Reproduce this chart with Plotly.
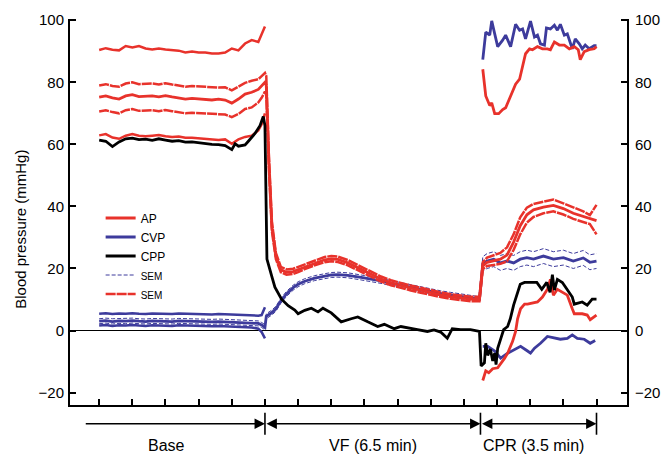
import plotly.graph_objects as go

FONT = "Arial, 'Liberation Sans', sans-serif"
RED = "#e8322b"
BLUE = "#3d3b9c"
BLACK = "#000000"

# ---------------- data (time in minutes, pressure in mmHg) ----------------
t_base = [-5.0, -4.8, -4.6, -4.4, -4.2, -4.0, -3.8, -3.6, -3.4, -3.2, -3.0, -2.8, -2.6, -2.4,
          -2.2, -2.0, -1.8, -1.6, -1.4, -1.2, -1.0, -0.8, -0.6, -0.4, -0.2, -0.1, 0.0]

t_mean = t_base + [0.04, 0.12, 0.21, 0.33, 0.48, 0.65, 0.85, 1.0, 1.2, 1.5, 1.8, 2.0, 2.2, 2.5,
                   2.9, 3.2, 3.5, 3.8, 4.1, 4.4, 4.7, 5.0, 5.3, 5.6, 5.9, 6.2, 6.47,
                   6.52, 6.57, 6.7, 6.9, 7.1, 7.3, 7.5, 7.7, 7.9, 8.1, 8.4, 8.7, 9.0, 9.3, 9.6, 9.8, 10.0]

ap_mean = [75.2, 75.6, 75.0, 74.6, 75.6, 76.0, 75.4, 75.4, 75.6, 75.3, 75.7, 75.3, 75.0, 74.6,
           74.8, 74.7, 74.5, 74.3, 74.6, 74.3, 73.3, 74.6, 76.2, 76.8, 77.7, 79.0, 80.0,
           79.0, 54.0, 33.5, 24.0, 19.6, 18.8, 19.0, 19.6, 20.6, 21.8, 22.8, 23.1, 22.9, 21.8,
           19.7, 18.0, 16.6, 15.4, 14.5, 13.7, 13.0, 12.2, 11.5, 10.9, 10.4, 10.1, 10.1,
           15.5, 20.8, 22.0, 22.6, 23.0, 24.3, 28.5, 33.8, 37.3, 38.9, 39.8, 40.3, 39.3, 37.8,
           36.8, 36.2, 35.4]
ap_sem_hi = [79.0, 79.4, 78.8, 78.6, 79.6, 80.0, 79.4, 79.4, 79.6, 79.3, 79.7, 79.3, 79.0, 78.6,
             78.8, 78.7, 78.5, 78.3, 78.3, 78.4, 77.4, 78.6, 79.8, 80.5, 81.0, 82.0, 83.0,
             82.0, 56.0, 35.0, 25.0, 20.5, 19.7, 19.9, 20.5, 21.5, 22.7, 23.7, 24.0, 23.8, 22.7,
             20.6, 18.9, 17.4, 16.2, 15.3, 14.5, 13.8, 13.0, 12.3, 11.7, 11.2, 10.9, 10.9,
             16.5, 22.0, 23.5, 24.3, 25.0, 26.8, 31.0, 36.5, 39.6, 40.8, 41.5, 42.2, 41.0, 39.6,
             38.4, 37.2, 40.5]
ap_sem_lo = [70.6, 71.0, 70.4, 70.0, 71.0, 71.4, 70.8, 70.8, 71.0, 70.7, 71.1, 70.7, 70.4, 70.0,
             70.2, 70.1, 69.9, 69.7, 69.8, 69.6, 68.8, 69.8, 71.4, 71.9, 73.5, 75.0, 77.0,
             76.0, 52.0, 32.0, 23.0, 18.8, 18.0, 18.2, 18.8, 19.8, 21.0, 22.0, 22.3, 22.1, 21.0,
             18.9, 17.2, 15.8, 14.6, 13.7, 12.9, 12.2, 11.4, 10.8, 10.2, 9.7, 9.4, 9.4,
             14.5, 19.8, 20.8, 21.2, 21.5, 22.3, 26.0, 31.0, 34.8, 36.6, 37.8, 38.4, 37.4, 36.0,
             35.0, 34.3, 31.0]

cvp_mean = [3.0, 3.2, 2.9, 3.1, 3.0, 3.2, 3.0, 2.9, 3.1, 3.0, 3.0, 2.9, 3.1, 3.0,
            2.9, 3.0, 2.9, 2.8, 2.9, 2.8, 2.7, 2.8, 2.6, 2.5, 2.3, 1.8, 1.0,
            4.6, 5.2, 5.8, 7.0, 9.6, 11.8, 13.8, 14.9, 15.9, 16.9, 17.6, 17.9, 18.0, 17.8,
            17.1, 16.6, 16.0, 15.3, 14.6, 13.9, 13.2, 12.6, 12.0, 11.5, 11.0, 10.5, 10.1,
            15.5, 21.5, 22.4, 23.0, 21.8, 22.4, 21.8, 23.0, 23.5, 23.0, 24.0, 23.0, 23.5, 22.4,
            23.4, 22.0, 22.4]
cvp_sem_hi = [3.8, 4.0, 3.8, 3.9, 3.8, 4.0, 3.8, 3.7, 3.9, 3.8, 3.8, 3.7, 3.9, 3.8,
              3.7, 3.8, 3.7, 3.6, 3.7, 3.6, 3.5, 3.6, 3.4, 3.3, 3.1, 2.6, 1.9,
              5.4, 6.0, 6.6, 7.8, 10.4, 12.6, 14.6, 15.7, 16.7, 17.7, 18.4, 18.7, 18.8, 18.6,
              17.9, 17.4, 16.8, 16.1, 15.4, 14.7, 14.0, 13.4, 12.8, 12.3, 11.8, 11.3, 10.9,
              16.5, 23.8, 24.8, 25.4, 24.2, 24.8, 24.2, 25.4, 25.9, 25.4, 26.4, 25.4, 25.9, 24.8,
              25.8, 24.4, 24.8]
cvp_sem_lo = [2.2, 2.4, 2.1, 2.3, 2.2, 2.4, 2.2, 2.1, 2.3, 2.2, 2.2, 2.1, 2.3, 2.2,
              2.1, 2.2, 2.1, 2.0, 2.1, 2.0, 1.9, 2.0, 1.8, 1.7, 1.5, 1.0, 0.2,
              3.8, 4.4, 5.0, 6.2, 8.8, 11.0, 13.0, 14.1, 15.1, 16.1, 16.8, 17.1, 17.2, 17.0,
              16.3, 15.8, 15.2, 14.5, 13.8, 13.1, 12.4, 11.8, 11.2, 10.7, 10.2, 9.7, 9.3,
              14.5, 19.2, 20.0, 20.6, 19.4, 20.0, 19.4, 20.6, 21.1, 20.6, 21.6, 20.6, 21.1, 20.0,
              21.0, 19.6, 20.0]

# baseline systolic / diastolic traces
ap_sys_base = [90.4, 91.0, 90.5, 90.3, 91.7, 91.2, 91.7, 90.9, 90.6, 90.9, 90.6, 90.4, 90.2, 89.6,
               89.9, 89.6, 89.6, 89.3, 89.3, 89.6, 90.9, 90.3, 92.5, 93.6, 93.0, 95.5, 98.0]
ap_dia_base = [62.9, 63.3, 62.2, 61.8, 62.8, 63.3, 62.8, 62.6, 62.8, 63.0, 62.6, 62.4, 62.5, 62.1,
               62.1, 61.9, 61.7, 61.5, 61.4, 61.6, 60.2, 61.6, 62.4, 62.8, 64.5, 66.5, 70.0]
cvp_sys_base = [5.4, 5.6, 5.3, 5.5, 5.4, 5.6, 5.4, 5.3, 5.5, 5.4, 5.4, 5.3, 5.5, 5.4,
                5.3, 5.4, 5.3, 5.2, 5.3, 5.2, 5.1, 5.2, 5.0, 4.9, 4.8, 5.0, 7.5]
cvp_dia_base = [1.6, 1.8, 1.5, 1.7, 1.6, 1.8, 1.6, 1.5, 1.7, 1.6, 1.6, 1.5, 1.7, 1.6,
                1.5, 1.6, 1.5, 1.4, 1.5, 1.4, 1.3, 1.4, 1.2, 1.0, 0.6, -0.5, -2.5]

# CPR systolic / diastolic traces
t_ap_sys_cpr = [6.57, 6.66, 6.78, 6.84, 6.93, 7.05, 7.17, 7.26, 7.41, 7.56, 7.68, 7.77, 7.86, 7.98,
                8.07, 8.22, 8.37, 8.52, 8.61, 8.73, 8.88, 9.03, 9.18, 9.33, 9.45, 9.51, 9.63, 9.78,
                9.93, 10.0]
ap_sys_cpr = [84.2, 75.6, 72.5, 73.4, 69.9, 69.9, 71.2, 71.8, 75.6, 79.4, 81.0, 85.1, 89.2, 90.8,
              90.5, 91.5, 90.8, 90.8, 90.5, 93.0, 92.0, 92.0, 90.8, 91.5, 90.5, 87.3, 89.9, 90.5,
              90.8, 91.5]
t_cvp_sys_cpr = [6.57, 6.66, 6.78, 6.84, 6.93, 7.02, 7.17, 7.26, 7.41, 7.56, 7.68, 7.77, 7.86, 8.01,
                 8.13, 8.22, 8.31, 8.43, 8.49, 8.61, 8.73, 8.82, 8.91, 9.03, 9.12, 9.27, 9.36, 9.48,
                 9.57, 9.66, 9.78, 9.93, 10.0]
cvp_sys_cpr = [87.3, 96.2, 95.2, 99.8, 95.6, 91.5, 93.6, 95.2, 91.5, 98.7, 96.8, 97.2, 94.0, 99.7,
               94.6, 95.2, 92.4, 92.0, 97.5, 97.2, 98.4, 96.8, 98.7, 95.2, 95.6, 90.8, 94.0, 92.4,
               90.8, 92.0, 90.8, 91.8, 91.8]
t_ap_dia_cpr = [6.57, 6.66, 6.75, 6.87, 7.02, 7.11, 7.23, 7.32, 7.47, 7.56, 7.62, 7.71, 7.83, 7.92,
                8.22, 8.37, 8.52, 8.61, 8.70, 8.82, 8.97, 9.12, 9.27, 9.33, 9.57, 9.72, 9.81, 10.0]
ap_dia_cpr = [-16.1, -13.0, -13.6, -12.3, -12.0, -10.8, -8.9, -7.3, -3.5, -0.3, 3.8, 7.0, 8.5, 8.5,
              9.2, 10.8, 13.3, 16.5, 11.4, 13.3, 12.3, 11.4, 7.0, 5.4, 5.4, 5.0, 3.5, 5.0]
t_cvp_dia_cpr = [6.57, 6.72, 6.93, 7.11, 7.32, 7.53, 7.71, 7.92, 8.01, 8.13, 8.31, 8.52, 8.73, 8.91,
                 9.12, 9.27, 9.42, 9.63, 9.81, 9.96]
cvp_dia_cpr = [-5.1, -5.1, -6.6, -8.9, -7.3, -6.0, -5.1, -6.6, -7.3, -5.7, -4.1, -1.9, -2.5, -2.8,
               -2.5, -1.4, -2.5, -2.8, -4.1, -3.2]

# coronary perfusion pressure
t_cpp = [-5.0, -4.8, -4.6, -4.4, -4.2, -4.0, -3.8, -3.6, -3.4, -3.2,
         -3.0, -2.8, -2.6, -2.4, -2.2, -2.0, -1.8, -1.6, -1.4, -1.2,
         -1.0, -0.9, -0.8, -0.6, -0.5, -0.3, -0.15, -0.05, 0.0, 0.03,
         0.06, 0.2, 0.3, 0.5, 0.7, 0.9, 1.0, 1.2, 1.4, 1.6,
         1.75, 2.0, 2.3, 2.6, 2.8, 3.1, 3.4, 3.6, 3.9, 4.1,
         4.4, 4.6, 4.9, 5.1, 5.3, 5.5, 5.65, 5.9, 6.2, 6.4,
         6.47, 6.52, 6.62, 6.66, 6.72, 6.8, 6.87, 6.93, 6.97, 7.02,
         7.08, 7.2, 7.32, 7.4, 7.5, 7.62, 7.7, 7.83, 7.92, 8.2,
         8.35, 8.5, 8.6, 8.67, 8.73, 8.82, 8.97, 9.12, 9.27, 9.33,
         9.57, 9.72, 9.87, 10.0]
cpp = [61.4, 61.0, 59.3, 60.8, 61.8, 62.0, 61.5, 61.7, 61.3, 61.8,
       61.4, 61.0, 61.2, 60.7, 60.8, 60.5, 60.3, 60.0, 59.9, 59.6,
       58.3, 60.2, 59.4, 59.8, 61.0, 63.5, 66.0, 69.0, 66.0, 49.0,
       23.0, 17.7, 14.0, 10.1, 8.0, 6.6, 5.4, 6.5, 7.2, 6.0,
       7.2, 5.7, 2.8, 3.8, 4.4, 2.8, 1.3, 2.0, 0.6, 1.3,
       0.6, 0.3, -0.3, 0.2, -0.5, -2.5, 0.6, 0.3, 0.3, 0.0,
       -0.3, -11.4, -10.4, -4.1, -8.0, -6.0, -9.8, -7.3, -11.0, -5.7,
       -3.5, 0.3, 1.3, 3.8, 8.2, 12.3, 14.9, 15.5, 15.5, 15.5,
       13.3, 15.5, 12.3, 18.0, 13.0, 16.5, 15.5, 13.3, 10.8, 8.5,
       9.2, 8.2, 10.1, 10.1]

# axis ticks and timeline
x_ticks = list(range(-5, 11))
y_ticks = [-20, 0, 20, 40, 60, 80, 100]
phase_bounds = [-5.45, 0.0, 6.5, 10.0]
phase_labels = ["Base", "VF (6.5 min)", "CPR (3.5 min)"]
phase_label_t = [-2.98, 3.27, 8.1]

# ---------------- figure ----------------
fig = go.Figure()

def line(x, y, color, width, dash="solid", name=None, legend=False, yaxis="y", rank=1000):
    fig.add_trace(go.Scatter(x=x, y=y, mode="lines", name=name, showlegend=legend,
                             legendrank=rank, yaxis=yaxis,
                             line=dict(color=color, width=width, dash=dash),
                             hoverinfo="skip"))

# CVP
line(t_base, cvp_sys_base, BLUE, 2.5)
line(t_base, cvp_dia_base, BLUE, 2.5)
line(t_cvp_sys_cpr, cvp_sys_cpr, BLUE, 2.8)
line(t_cvp_dia_cpr, cvp_dia_cpr, BLUE, 2.8)
line(t_mean, cvp_sem_hi, BLUE, 1, "4px,2px", '<span style="font-size:10px">SEM</span>', True, rank=4)
line(t_mean, cvp_sem_lo, BLUE, 1, "4px,2px")
line(t_mean, cvp_mean, BLUE, 2.8, name="CVP", legend=True, rank=2)

# AP
line(t_base, ap_sys_base, RED, 2.5, yaxis="y2")
line(t_base, ap_dia_base, RED, 2.5)
line(t_ap_sys_cpr, ap_sys_cpr, RED, 2.8, yaxis="y2")
line(t_ap_dia_cpr, ap_dia_cpr, RED, 2.8)
line(t_mean, ap_sem_hi, RED, 2.5, "10px,1px", '<span style="font-size:10px">SEM</span>', True, rank=5)
line(t_mean, ap_sem_lo, RED, 2.5, "10px,1px")
line(t_mean, ap_mean, RED, 2.8, name="AP", legend=True, rank=1)

# CPP
line(t_cpp, cpp, BLACK, 2.8, name="CPP", legend=True, rank=3)

yrange = [-24.0, 100.4]
axis_common = dict(showline=True, linecolor=BLACK, linewidth=2, ticks="inside", ticklen=6,
                   tickwidth=1.5, tickcolor=BLACK, showgrid=False, mirror=False)

fig.update_layout(
    width=672, height=456, autosize=False,
    margin=dict(l=70, r=42, t=13, b=51),
    paper_bgcolor="white", plot_bgcolor="white",
    font=dict(family=FONT, size=15, color=BLACK),
    xaxis=dict(range=[-5.88, 10.92], tickvals=x_ticks, showticklabels=False,
               zeroline=False, **axis_common),
    yaxis=dict(range=yrange, tickvals=y_ticks, zeroline=True, zerolinecolor=BLACK,
               zerolinewidth=1, tickfont=dict(size=15), ticklabelstandoff=1, **axis_common),
    yaxis2=dict(range=yrange, tickvals=y_ticks, overlaying="y", side="right", zeroline=False,
                tickfont=dict(size=15), ticklabelstandoff=3, **axis_common),
    legend=dict(x=0.055, y=0.522, xanchor="left", yanchor="top", bgcolor="rgba(0,0,0,0)",
                font=dict(size=12, family=FONT), itemwidth=30, tracegroupgap=0,
                traceorder="normal"),
    showlegend=True,
)

# y-axis title
fig.add_annotation(text="Blood pressure (mmHg)", xref="paper", yref="paper", x=-0.089, y=0.455,
                   textangle=-90, showarrow=False, font=dict(size=15, family=FONT),
                   xanchor="center", yanchor="middle")

# timeline below the axis
arrow_y = -0.0485
for i, lab in enumerate(phase_labels):
    x0, x1 = phase_bounds[i], phase_bounds[i + 1]
    fig.add_annotation(x=x1, y=arrow_y, xref="x", yref="paper", ax=x0, ay=0, axref="x",
                       ayref="pixel", text="", showarrow=True, arrowhead=2, arrowsize=1.3,
                       arrowwidth=1.6, arrowcolor=BLACK,
                       arrowside="end" if i == 0 else "end+start", standoff=0, startstandoff=0)
    fig.add_shape(type="line", xref="x", yref="paper", x0=x1, x1=x1, y0=-0.02, y1=-0.077,
                  line=dict(color=BLACK, width=1.6))
    fig.add_annotation(text=lab, x=phase_label_t[i], y=-0.105, xref="x", yref="paper",
                       showarrow=False, font=dict(size=16, family=FONT),
                       xanchor="center", yanchor="middle")

# remove the default 8px page margin so the 672x456 figure fills the window exactly
fig.write_html("out.html", config={"displayModeBar": False},
               post_script="document.body.style.margin='0px';")
